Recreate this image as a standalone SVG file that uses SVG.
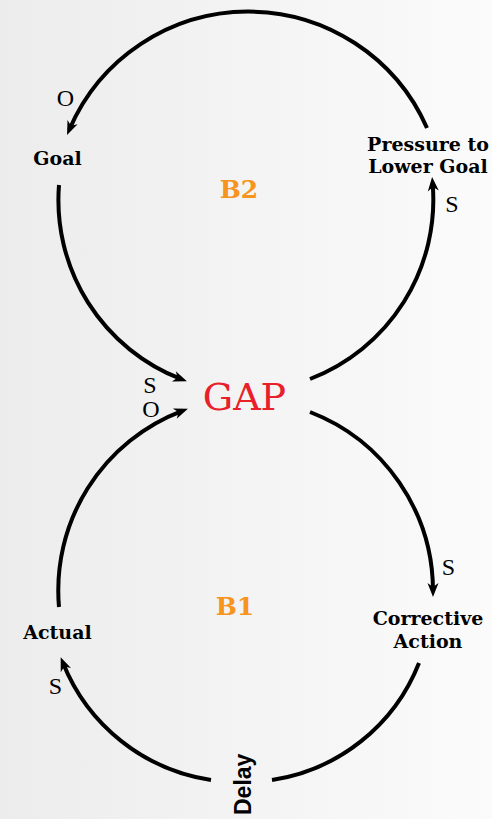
<svg xmlns="http://www.w3.org/2000/svg" width="492" height="819" viewBox="0 0 492 819">
<defs>
<linearGradient id="bg" x1="0" y1="0" x2="1" y2="0">
<stop offset="0" stop-color="#ececec"/>
<stop offset="1" stop-color="#fbfbfb"/>
</linearGradient>
<marker id="ah" markerUnits="userSpaceOnUse" markerWidth="20" markerHeight="20" refX="8" refY="10" orient="auto" overflow="visible">
<path d="M0,4.5 L14,10 L0,15.5 L4,10 z" fill="#000"/>
</marker>
<style>
.lnk{fill:none;stroke:#000;stroke-width:4}
.arr{marker-end:url(#ah)}
.lbl{font-family:"DejaVu Serif",serif;font-weight:bold;font-size:19px;fill:#000;text-anchor:middle}
.pol{font-family:"Liberation Serif",serif;font-size:24px;fill:#000;text-anchor:middle}
.loop{font-family:"DejaVu Serif",serif;font-weight:bold;font-size:25px;fill:#f7941d;text-anchor:middle}
.gap{font-family:"DejaVu Serif",serif;font-size:38px;fill:#e8202a;text-anchor:middle}
.delay{font-family:"Liberation Sans",Arial,sans-serif;font-weight:bold;font-size:23px;fill:#000}
</style>
</defs>
<rect x="0" y="0" width="492" height="819" fill="url(#bg)"/>
<g id="connectors">
<path class="lnk arr" d="M427,128 A195,195 0 0 0 69.4,129.5"/>
<path class="lnk arr" d="M59,185 A192,192 0 0 0 181.3,379.2"/>
<path class="lnk arr" d="M310,379 A192,192 0 0 0 432.6,183"/>
<path class="lnk arr" d="M310,412 A192,192 0 0 1 433,591"/>
<path class="lnk" d="M419,663 A188,188 0 0 1 272,780"/>
<path class="lnk arr" d="M211,780 A190,190 0 0 1 62.9,662.7"/>
<path class="lnk arr" d="M59,607 A192,192 0 0 1 182.3,410.8"/>
</g>
<g id="polarities">
<text class="pol" x="65.5" y="106">O</text>
<text class="pol" x="150" y="393">S</text>
<text class="pol" x="151" y="417">O</text>
<text class="pol" x="452" y="212">S</text>
<text class="pol" x="448.5" y="575">S</text>
<text class="pol" x="55.5" y="694">S</text>
</g>
<g id="goal"><text class="lbl" x="57.5" y="165">Goal</text></g>
<g id="pressure"><text class="lbl" x="428" y="151">Pressure to</text><text class="lbl" x="428" y="173">Lower Goal</text></g>
<g id="gap"><text class="gap" x="244.5" y="410">GAP</text></g>
<g id="corrective"><text class="lbl" x="428" y="625">Corrective</text><text class="lbl" x="428" y="648">Action</text></g>
<g id="actual"><text class="lbl" x="57.5" y="639">Actual</text></g>
<g id="delay"><text class="delay" transform="translate(251,815) rotate(-90)">Delay</text></g>
<g id="b2"><text class="loop" x="239" y="198">B2</text></g>
<g id="b1"><text class="loop" x="235" y="615">B1</text></g>
</svg>
